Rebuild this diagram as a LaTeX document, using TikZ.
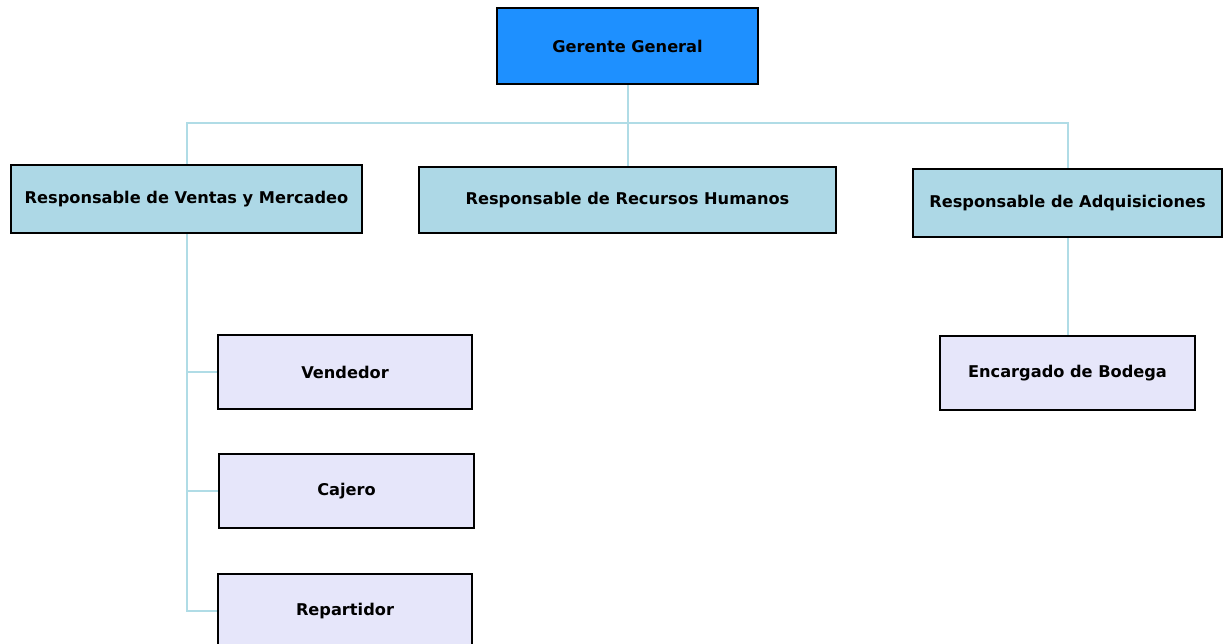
\documentclass[tikz,border=0pt]{standalone}
\usepackage{fontspec}
\setmainfont{DejaVu Sans}
\usetikzlibrary{backgrounds}
\definecolor{topblue}{HTML}{1E90FF}
\definecolor{midblue}{HTML}{ADD8E6}
\definecolor{lowlav}{HTML}{E6E6FA}
\definecolor{wire}{HTML}{B0DCE6}
\tikzset{
  orgbox/.style={draw=black, line width=1.8pt, inner sep=0pt,
    font=\bfseries\fontsize{16.2}{19}\selectfont, text=black},
  chief/.style={orgbox, fill=topblue},
  headbox/.style={orgbox, fill=midblue},
  staffbox/.style={orgbox, fill=lowlav},
  link/.style={draw=wire, line width=2pt}
}
\begin{document}
\begin{tikzpicture}[x=1pt, y=-1pt]
\useasboundingbox (0,0) rectangle (1227,643);
\clip (0,0) rectangle (1227,643);
% top level
\node[chief, minimum width=261pt, minimum height=76pt] (gg) at (627.5,46) {Gerente General};
% department heads
\node[headbox, minimum width=351pt, minimum height=68pt] (vm) at (186.5,199) {Responsable de Ventas y Mercadeo};
\node[headbox, minimum width=417pt, minimum height=66pt] (rh) at (627.5,200) {Responsable de Recursos Humanos};
\node[headbox, minimum width=309pt, minimum height=68pt] (ad) at (1067.5,203) {Responsable de Adquisiciones};
% staff
\node[staffbox, minimum width=254pt, minimum height=74pt] (ven) at (345,372) {Vendedor};
\node[staffbox, minimum width=255pt, minimum height=74pt] (caj) at (346.5,491) {Cajero};
\node[staffbox, minimum width=254pt, minimum height=74pt] (rep) at (345,611) {Repartidor};
\node[staffbox, minimum width=255pt, minimum height=74pt] (eb) at (1067.5,373) {Encargado de Bodega};
% connectors
\coordinate (bus) at (0,123);
\begin{scope}[on background layer]
\draw[link] (gg.south) -- (rh.north);
\draw[link] (vm.north) -- (vm.north |- bus) -- (ad.north |- bus) -- (ad.north);
\draw[link] (vm.south) -- (vm.south |- rep.west) -- (rep.west);
\draw[link] (vm.south |- ven.west) -- (ven.west);
\draw[link] (vm.south |- caj.west) -- (caj.west);
\draw[link] (ad.south) -- (eb.north);
\end{scope}
\end{tikzpicture}
\end{document}
